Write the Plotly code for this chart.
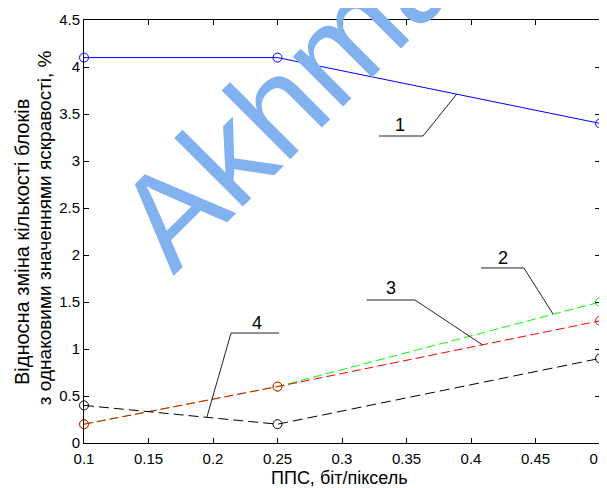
import plotly.graph_objects as go

# ---- data ----
x_vals = [0.1, 0.25, 0.5]
series1 = [4.1, 4.1, 3.4]   # blue, solid
series2 = [0.2, 0.6, 1.5]   # green, dashed
series3 = [0.2, 0.6, 1.3]   # red, dashed
series4 = [0.4, 0.2, 0.9]   # black, dashed

x_ticks = [0.1, 0.15, 0.2, 0.25, 0.3, 0.35, 0.4, 0.45, 0.5]
x_tick_labels = ["0.1", "0.15", "0.2", "0.25", "0.3", "0.35", "0.4", "0.45", "0.5"]
y_ticks = [0, 0.5, 1, 1.5, 2, 2.5, 3, 3.5, 4, 4.5]
y_tick_labels = ["0", "0.5", "1", "1.5", "2", "2.5", "3", "3.5", "4", "4.5"]

callout_labels = ["1", "2", "3", "4"]
# leader line geometry in data units: (x_start, x_knee, y_shelf, x_tip, y_tip, text_x, text_y)
callout_geom = [
    (0.3287, 0.3628, 3.266, 0.389, 3.713, 0.345, 3.383),
    (0.4078, 0.4410, 1.862, 0.4636, 1.372, 0.4248, 1.963),
    (0.3190, 0.3566, 1.521, 0.409, 1.043, 0.338, 1.649),
    (0.2512, 0.2140, 1.170, 0.1953, 0.277, 0.234, 1.277),
]

FONT = "Arial, 'Liberation Sans', sans-serif"

fig = go.Figure()

def add_series(y, color, dash):
    fig.add_trace(go.Scatter(
        x=x_vals, y=y, mode="lines+markers",
        line=dict(color=color, width=1, dash=dash),
        marker=dict(symbol="circle-open", size=9, color=color, line=dict(width=1, color=color)),
        cliponaxis=False, hoverinfo="skip"))

add_series(series1, "#0000ff", "solid")
add_series(series2, "#00ff00", "9px,4px")
add_series(series3, "#ff0000", "9px,4px")
add_series(series4, "#000000", "10px,5px")

shapes = []
annotations = []
for lab, (xs, xk, ys, xt, yt, tx, ty) in zip(callout_labels, callout_geom):
    shapes.append(dict(type="line", xref="x", yref="y", x0=xs, y0=ys, x1=xk, y1=ys,
                       line=dict(color="#222222", width=1)))
    shapes.append(dict(type="line", xref="x", yref="y", x0=xk, y0=ys, x1=xt, y1=yt,
                       line=dict(color="#222222", width=1)))
    annotations.append(dict(x=tx, y=ty, xref="x", yref="y", text=lab, showarrow=False,
                            font=dict(family=FONT, size=18, color="#000000")))

# y-axis title (two lines)
annotations.append(dict(x=-0.1202, y=0.475, xref="paper", yref="paper",
                        text="Відносна зміна кількості блоків", textangle=-90,
                        showarrow=False, xanchor="center", yanchor="middle",
                        font=dict(family=FONT, size=20, color="#000000")))
annotations.append(dict(x=-0.0775, y=0.508, xref="paper", yref="paper",
                        text="з однаковими значеннями яскравості, %", textangle=-90,
                        showarrow=False, xanchor="center", yanchor="middle",
                        font=dict(family=FONT, size=19, color="#000000")))
# x-axis title
annotations.append(dict(x=0.496, y=-0.083, xref="paper", yref="paper",
                        text="ППС, біт/піксель", showarrow=False,
                        xanchor="center", yanchor="middle",
                        font=dict(family=FONT, size=18, color="#000000")))
# watermark
annotations.append(dict(x=0.446, y=0.884, xref="paper", yref="paper",
                        text="Akhmad", textangle=-45, showarrow=False,
                        xanchor="center", yanchor="middle",
                        font=dict(family=FONT, size=134, color="#82b1f0")))

# the page body has an 8px default margin, so the figure is 8px smaller
fig.update_layout(
    width=599, height=480,
    margin=dict(l=76, r=7, t=12, b=45, autoexpand=False),
    plot_bgcolor="white", paper_bgcolor="white",
    showlegend=False,
    shapes=shapes, annotations=annotations,
    font=dict(family=FONT, size=15, color="#000000"),
    xaxis=dict(range=[0.1, 0.5], tickvals=x_ticks, ticktext=x_tick_labels,
               ticks="inside", ticklen=5, tickcolor="#000000",
               showline=True, linecolor="#000000", linewidth=1, mirror="ticks",
               showgrid=False, zeroline=False, automargin=False,
               ticklabeloverflow="allow", ticklabelstandoff=2,
               tickfont=dict(family=FONT, size=15, color="#000000")),
    yaxis=dict(range=[0, 4.5], tickvals=y_ticks, ticktext=y_tick_labels,
               ticks="inside", ticklen=5, tickcolor="#000000",
               showline=True, linecolor="#000000", linewidth=1, mirror="ticks",
               showgrid=False, zeroline=False, automargin=False,
               ticklabeloverflow="allow",
               tickfont=dict(family=FONT, size=15, color="#000000")),
)

fig.write_html("out.html")
